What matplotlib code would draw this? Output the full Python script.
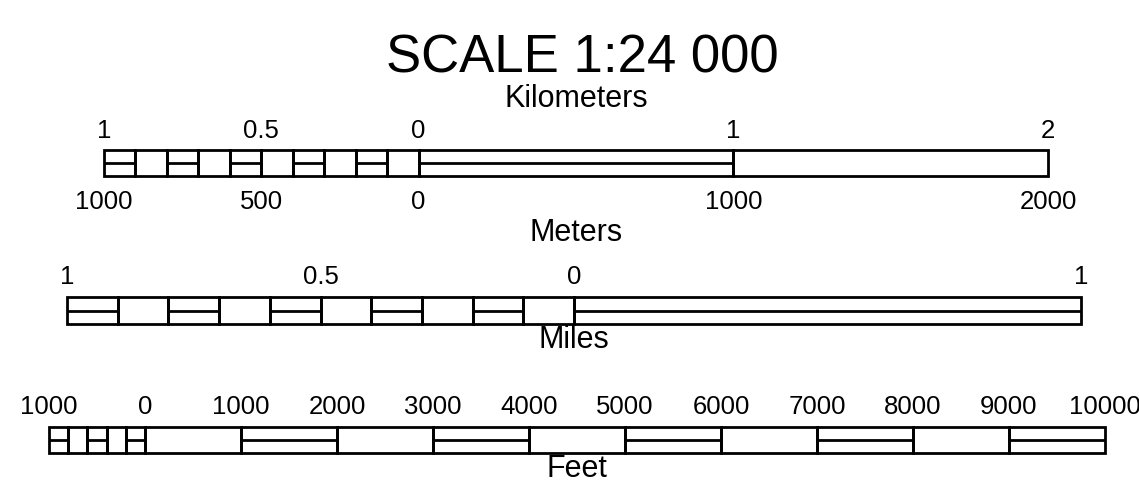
import numpy as np
import matplotlib.pyplot as plt

plt.rcParams['font.family'] = ['Liberation Sans', 'DejaVu Sans']

# kilometers / meters scale
km_edges = [-1, -0.9, -0.8, -0.7, -0.6, -0.5, -0.4, -0.3, -0.2, -0.1, 0, 1, 2]
km_striped = [1, 0, 1, 0, 1, 0, 1, 0, 1, 0, 1, 0]
km_ticks = [-1, -0.5, 0, 1, 2]
km_labels = ["1", "0.5", "0", "1", "2"]
m_ticks = [-1000, -500, 0, 1000, 2000]
m_labels = ["1000", "500", "0", "1000", "2000"]

# miles scale
mi_edges = [-1, -0.9, -0.8, -0.7, -0.6, -0.5, -0.4, -0.3, -0.2, -0.1, 0, 1]
mi_striped = [1, 0, 1, 0, 1, 0, 1, 0, 1, 0, 1]
mi_ticks = [-1, -0.5, 0, 1]
mi_labels = ["1", "0.5", "0", "1"]

# feet scale
ft_edges = [-1000, -800, -600, -400, -200, 0, 1000, 2000, 3000, 4000, 5000,
            6000, 7000, 8000, 9000, 10000]
ft_striped = [1, 0, 1, 0, 1, 0, 1, 0, 1, 0, 1, 0, 1, 0, 1]
ft_ticks = [-1000, 0, 1000, 2000, 3000, 4000, 5000, 6000, 7000, 8000, 9000, 10000]
ft_labels = ["1000", "0", "1000", "2000", "3000", "4000", "5000", "6000",
             "7000", "8000", "9000", "10000"]

W, H = 1139, 483
LW = 2.0
TICK_FS = 18.5
LABEL_FS = 22


def px_box(left, right, top, bottom):
    return [left / W, 1 - bottom / H, (right - left) / W, (bottom - top) / H]


def draw_bar(ax, edges, striped):
    edges = np.asarray(edges, float)
    starts = edges[:-1]
    ends = edges[1:]
    st = np.asarray(striped, bool)
    ax.bar(starts, 1, np.diff(edges), align='edge', fill=False,
           edgecolor='black', linewidth=LW, clip_on=False)
    ax.hlines(np.full(st.sum(), 0.5), starts[st], ends[st], color='black',
              linewidth=LW, clip_on=False)
    ax.set_xlim(edges[0], edges[-1])
    ax.set_ylim(0, 1)
    for s in ax.spines.values():
        s.set_visible(False)
    ax.set_yticks([])
    ax.set_facecolor('none')


fig = plt.figure(figsize=(W / 100, H / 100), dpi=100)

fig.text(582 / W, 1 - 72 / H, "SCALE 1:24 000", fontsize=38,
         ha='center', va='baseline')

# km
ax1 = fig.add_axes(px_box(104, 1048, 150, 176))
draw_bar(ax1, km_edges, km_striped)
ax1.xaxis.tick_top()
ax1.set_xticks(km_ticks, km_labels)
ax1.tick_params(axis='x', length=0, pad=5, labelsize=TICK_FS)
ax1.xaxis.set_label_position('top')
ax1.set_xlabel("Kilometers", fontsize=LABEL_FS, labelpad=9)

sec = ax1.secondary_xaxis('bottom', functions=(lambda x: x * 1000,
                                                lambda x: x / 1000))
sec.set_xticks(m_ticks, m_labels)
sec.tick_params(axis='x', length=0, pad=10, labelsize=TICK_FS)
sec.spines['bottom'].set_visible(False)
sec.set_xlabel("Meters", fontsize=LABEL_FS, labelpad=3)

# miles
ax2 = fig.add_axes(px_box(67, 1081, 297, 324))
draw_bar(ax2, mi_edges, mi_striped)
ax2.xaxis.tick_top()
ax2.set_xticks(mi_ticks, mi_labels)
ax2.tick_params(axis='x', length=0, pad=6, labelsize=TICK_FS)
ax2.xaxis.set_label_position('bottom')
ax2.set_xlabel("Miles", fontsize=LABEL_FS, labelpad=1)

# feet
ax3 = fig.add_axes(px_box(49, 1105, 427, 453))
draw_bar(ax3, ft_edges, ft_striped)
ax3.xaxis.tick_top()
ax3.set_xticks(ft_ticks, ft_labels)
ax3.tick_params(axis='x', length=0, pad=6, labelsize=TICK_FS)
ax3.xaxis.set_label_position('bottom')
ax3.set_xlabel("Feet", fontsize=LABEL_FS, labelpad=1)

fig.savefig("out.png", dpi=100)
